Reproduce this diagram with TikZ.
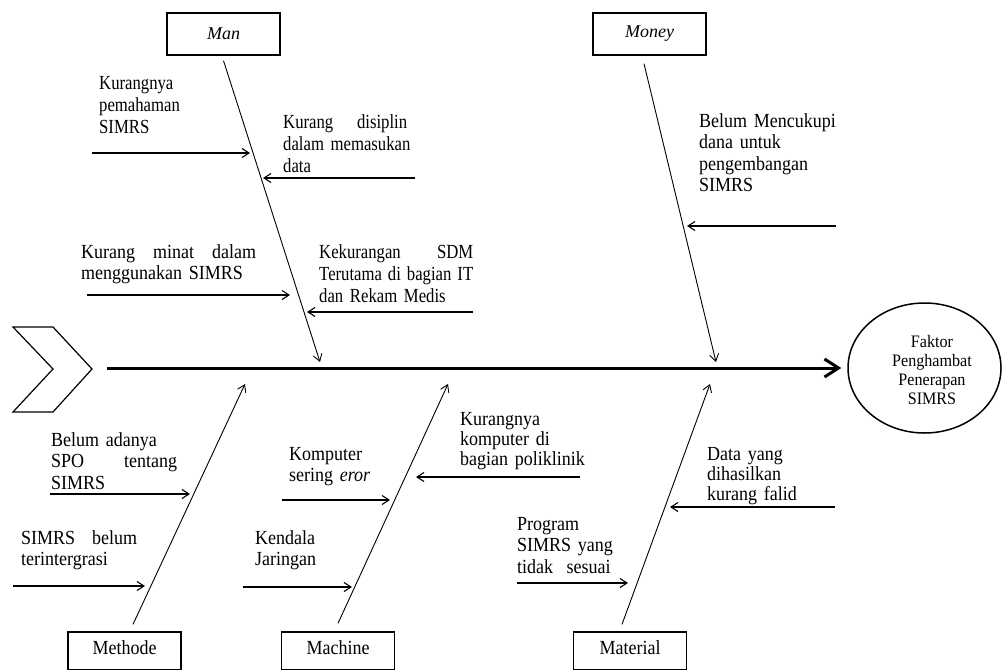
\documentclass[tikz,border=0pt]{standalone}
\usepackage{fontspec}
\setmainfont{Liberation Serif}
\newfontfamily\famA[FakeStretch=0.835]{Liberation Serif}
\newfontfamily\famB[FakeStretch=0.9]{Liberation Serif}
\newfontfamily\famC[FakeStretch=0.92]{Liberation Serif}
\usetikzlibrary{arrows.meta,shapes.geometric}
\newcommand{\fA}{\famA\fontsize{20}{22}\selectfont}
\newcommand{\fB}{\famB\fontsize{20}{21.5}\selectfont}
\newcommand{\js}[2]{\leavevmode\hbox to #1{#2}}
\tikzset{
  causebox/.style={draw, line width=1.3pt, minimum width=113pt, minimum height=42pt, inner sep=0pt, font=\fB},
  lowbox/.style={causebox, minimum height=38pt, text depth=6.6pt},
  txt/.style={anchor=base west, inner sep=0pt, align=left},
  bone/.style={line width=0.9pt, -{Straight Barb[length=7pt,width=9pt]}},
  sub/.style={line width=1.1pt, -{Straight Barb[length=7pt,width=9pt]}},
  spine/.style={line width=3pt, -{Straight Barb[length=14pt,width=18pt]}},
}
\begin{document}
\begin{tikzpicture}[x=1pt,y=-1pt]
\useasboundingbox (0,0) rectangle (1003,669);
\clip (0,0) rectangle (1003,669);
\fill[white] (0,0) rectangle (1003,669);

% head / effect
\node[draw, ellipse, line width=1.5pt, minimum width=153pt, minimum height=130pt, inner sep=0pt] (effect) at (924.5,368) {};
\node[inner sep=0pt, align=center, font=\famC\fontsize{17.5}{19}\selectfont] (effecttext) at (932,370) {Faktor\\Penghambat\\Penerapan\\SIMRS};

% chevron tail
\draw[line width=1.2pt, line join=miter] (13,327) -- (53,327) -- (92,369) -- (53,412) -- (13,412) -- (53,369) -- cycle;

% spine
\coordinate (spinestart) at (107,368);
\draw[spine] (spinestart) -- ([xshift=-6pt]effect.west);

% category boxes
\node[causebox, font=\rmfamily\fontsize{18}{20}\selectfont\itshape] (man) at (223.5,34) {Man};
\node[causebox, font=\rmfamily\fontsize{18}{20}\selectfont\itshape] (money) at (649.5,34) {Money};
\node[lowbox] (methode) at (124.5,651) {Methode};
\node[lowbox] (machine) at (338,651) {Machine};
\node[lowbox] (material) at (630,651) {Material};

% bone tips
\coordinate (mantip) at (320,362);
\coordinate (moneytip) at (716,362);
\coordinate (methtip) at (245,384);
\coordinate (machtip) at (448,384);
\coordinate (mattip) at (710,384);

% bones
\draw[bone] ([yshift=-5pt]man.south) -- (mantip);
\draw[bone] ([xshift=-5.5pt,yshift=-8pt]money.south) -- (moneytip);
\draw[bone] ([xshift=8.5pt,yshift=7pt]methode.north) -- (methtip);
\draw[bone] ([yshift=8pt]machine.north) -- (machtip);
\draw[bone] ([xshift=-8pt,yshift=7pt]material.north) -- (mattip);

% texts
\node[txt, font=\fA, text width=95pt] (t1) at (99,89) {Kurangnya\\pemahaman\\SIMRS};
\node[txt, font=\fA, text width=130pt] (t2) at (283,128) {\js{124pt}{Kurang\hfill disiplin}\\dalam memasukan\\data};
\node[txt, font=\fB, text width=175pt] (t3) at (81,258) {\js{175pt}{Kurang\hfill minat\hfill dalam}\\menggunakan SIMRS};
\node[txt, font=\fA, text width=154pt] (t4) at (319,258) {\js{154pt}{Kekurangan\hfill SDM}\\\js{154pt}{Terutama\hfill di\hfill bagian\hfill IT}\\dan Rekam Medis};
\node[txt, font=\fB, text width=140pt] (t5) at (699,127) {Belum Mencukupi\\dana untuk\\pengembangan\\SIMRS};
\node[txt, font=\fB, text width=126pt] (t6) at (51,446) {Belum adanya\\\js{126pt}{SPO\hfill tentang}\\SIMRS};
\node[txt, font=\fB, text width=116pt] (t7) at (21,544) {\js{116pt}{SIMRS\hfill belum}\\terintergrasi};
\node[txt, font=\fB, text width=100pt] (t8) at (289,460) {Komputer\\sering \textit{eror}};
\node[txt, font=\fB, text width=90pt] (t9) at (255,544) {Kendala\\Jaringan};
\node[txt, font=\famB\fontsize{20}{20}\selectfont, text width=130pt] (t10) at (460,425) {Kurangnya\\komputer di\\bagian poliklinik};
\node[txt, font=\famB\fontsize{20}{20}\selectfont, text width=100pt] (t11) at (707,460) {Data yang\\dihasilkan\\kurang falid};
\node[txt, font=\fB, text width=110pt] (t12) at (517,530) {Program\\SIMRS yang\\tidak\ \ sesuai};

% sub-cause arrows
\coordinate (a1s) at (92,153);  \coordinate (a1e) at (250,153);
\coordinate (a2s) at (415,178); \coordinate (a2e) at (263,178);
\coordinate (a3s) at (87,295);  \coordinate (a3e) at (290,295);
\coordinate (a4s) at (473,312); \coordinate (a4e) at (307,312);
\coordinate (a5s) at (836,226); \coordinate (a5e) at (687,226);
\coordinate (a6s) at (50,494);  \coordinate (a6e) at (190,494);
\coordinate (a7s) at (13,586);  \coordinate (a7e) at (145,586);
\coordinate (a8s) at (282,500); \coordinate (a8e) at (390,500);
\coordinate (a9s) at (243,587); \coordinate (a9e) at (352,587);
\coordinate (a10s) at (580,477); \coordinate (a10e) at (416,477);
\coordinate (a11s) at (835,507); \coordinate (a11e) at (670,507);
\coordinate (a12s) at (517,583); \coordinate (a12e) at (628,583);
\foreach \i in {1,...,12} {\draw[sub] (a\i s) -- (a\i e);}
\end{tikzpicture}
\end{document}
